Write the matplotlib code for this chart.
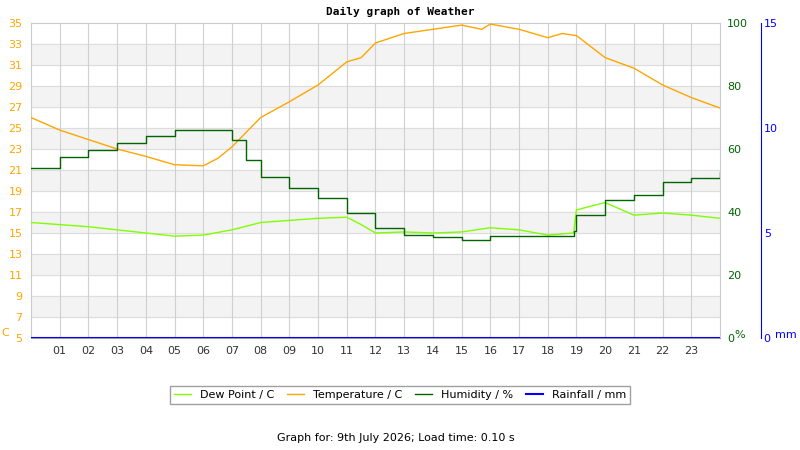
import matplotlib
matplotlib.use("Agg")
import matplotlib.pyplot as plt
import numpy as np

hours = [0,1,2,3,4,5,6,6.5,7,8,9,10,11,11.5,12,13,14,15,15.7,16,17,18,18.5,19,20,21,22,23,24]
temp = [26.0,24.8,23.9,23.0,22.3,21.5,21.4,22.1,23.2,26.0,27.5,29.1,31.3,31.7,33.1,34.0,34.4,34.8,34.4,34.9,34.4,33.6,34.0,33.8,31.7,30.7,29.1,27.9,26.9]
hum_h = [0,1,2,3,4,5,6,7,7.5,8,9,10,11,12,13,14,15,16,17,18,18.9,19,20,21,22,23,24]
hum = [54,57.5,59.7,62,64,66,66,63,56.5,51,47.6,44.4,39.7,35,32.7,32,31,32.4,32.4,32.4,34,39,43.8,45.4,49.5,50.8,52.7]
dew_h = [0,1,2,3,4,5,6,7,8,9,10,11,11.5,12,13,14,15,16,17,18,18.9,19,20,21,22,23,24]
dew = [16.0,15.8,15.6,15.3,15.0,14.7,14.8,15.3,16.0,16.2,16.4,16.5,15.8,15.0,15.1,15.0,15.1,15.5,15.3,14.8,15.0,17.2,17.9,16.7,16.9,16.7,16.4]
hour_labels = ["%02d" % h for h in range(1, 24)]

plt.rcParams['font.family'] = ['DejaVu Sans']
fig = plt.figure(figsize=(8, 4.5), dpi=100)
ax = fig.add_axes([31/800, 112/450, 689/800, 315/450])
ax.set_xlim(0, 24)
ax.set_ylim(5, 35)
for lo in range(7, 35, 4):
    ax.axhspan(lo, lo + 2, color='#f3f3f3', zorder=0)
for y in range(7, 35, 2):
    ax.axhline(y, color='#dddddd', lw=0.8, zorder=0.5)
for h in range(1, 24):
    ax.axvline(h, color='#d0d0d0', lw=0.8, zorder=0.5)
ax.set_xticks(range(1, 24))
ax.set_xticklabels(hour_labels, fontsize=8, color='#333333')
ax.set_yticks(range(5, 36, 2))
ax.set_yticklabels([str(v) for v in range(5, 36, 2)], fontsize=8, color='orange')
ax.tick_params(length=0, pad=6)
for s in ['top', 'right', 'left']:
    ax.spines[s].set_color('#cccccc')
ax.spines['bottom'].set_color('#999999')

l1, = ax.plot(dew_h, dew, color='#7fff00', lw=1, zorder=3)
l2, = ax.plot(hours, temp, color='orange', lw=1, zorder=3)

ax2 = ax.twinx()
ax2.set_ylim(0, 100)
ax2.set_yticks(range(0, 101, 20))
ax2.tick_params(length=0, labelsize=8, labelcolor='#006400', pad=5)
for s in ax2.spines.values():
    s.set_visible(False)
l3, = ax2.plot(hum_h, hum, color='#006400', lw=1, drawstyle='steps-post', zorder=4)
l4, = ax2.plot([0, 24], [0, 0], color='blue', lw=1.5)

ax3 = ax.twinx()
ax3.set_ylim(0, 15)
ax3.set_yticks([0, 5, 10, 15])
for s in ['top', 'left', 'bottom']:
    ax3.spines[s].set_visible(False)
ax3.spines['right'].set_position(('outward', 29.5))
ax3.spines['right'].set_color('blue')
ax3.tick_params(length=0, labelsize=8, labelcolor='blue', pad=2)

fig.text(400/800, 1 - 12/450, "Daily graph of Weather", ha='center', va='center', fontsize=8, family='DejaVu Sans Mono', weight='bold')
fig.text(5/800, 1 - 333/450, "C", color='orange', fontsize=8, ha='center', va='center')
fig.text(740/800, 1 - 335/450, "%", color='#006400', fontsize=8, ha='center', va='center')
fig.text(786/800, 1 - 335/450, "mm", color='blue', fontsize=8, ha='center', va='center')
fig.legend([l1, l2, l3, l4], ["Dew Point / C", "Temperature / C", "Humidity / %", "Rainfall / mm"],
           loc='center', bbox_to_anchor=(400/800, 1 - 395/450), ncol=4, fontsize=8,
           frameon=True, fancybox=False, edgecolor='#888888', handlelength=1.5, columnspacing=1.2,
           handletextpad=0.8)
fig.text(396/800, 1 - 438/450, "Graph for: 9th July 2026; Load time: 0.10 s", ha='center', va='center', fontsize=8)
fig.savefig("out.png", dpi=100)
